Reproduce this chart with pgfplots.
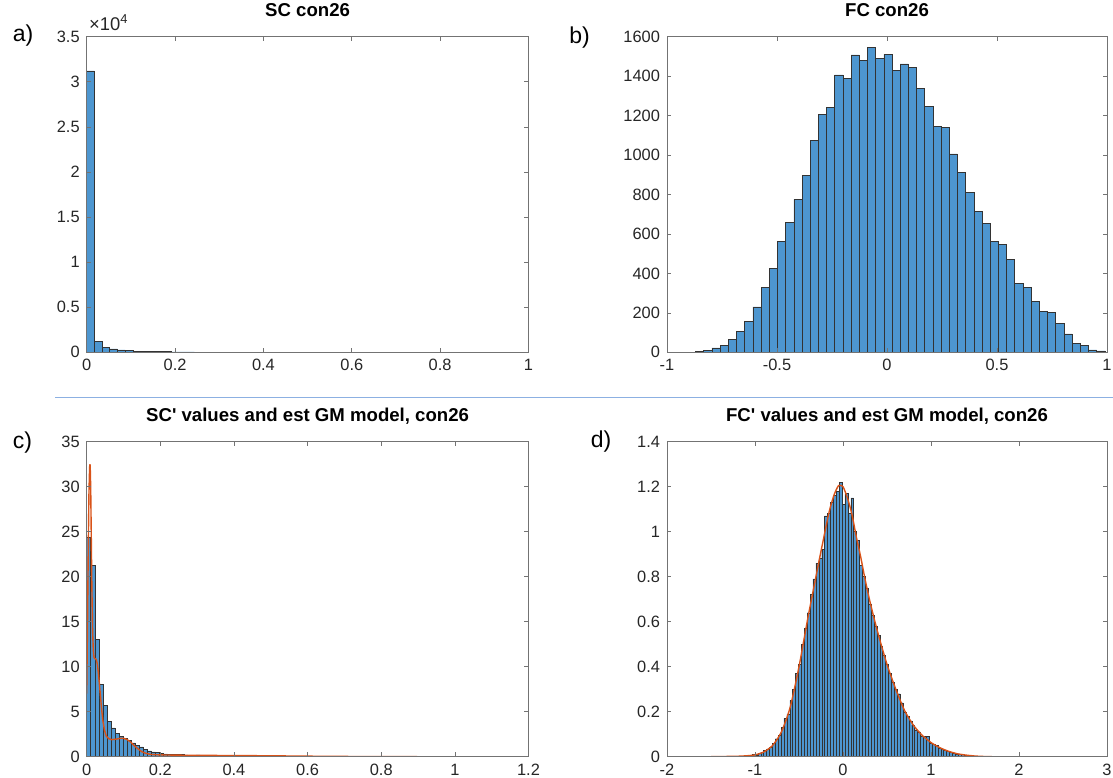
\documentclass[border=0pt]{standalone}
\usepackage{pgfplots}
\pgfplotsset{compat=1.18}
\usepackage{fontspec}
\setmainfont{Liberation Sans}

\definecolor{histblue}{RGB}{77,150,208}
\definecolor{gmred}{RGB}{217,83,25}
\definecolor{sepblue}{RGB}{140,176,226}

\pgfplotsset{
  mat/.style={
    scale only axis,
    anchor=south west,
    axis on top,
    enlargelimits=false,
    scaled ticks=false,
    axis line style={black!55, line width=0.4pt},
    tick align=inside,
    tick pos=both,
    xticklabel pos=lower,
    yticklabel pos=left,
    major tick length=2.2pt,
    tick style={black!55, line width=0.3pt},
    ticklabel style={font=\fontsize{8.2}{9}\selectfont, text=black!85},
    /pgf/number format/assume math mode=true,
    /pgf/number format/1000 sep={},
    title style={font=\bfseries\fontsize{9.3}{10}\selectfont, at={(0.5,1)}, anchor=base, yshift=4.2pt},
  },
  hist/.style={ybar interval, fill=histblue, draw=black!80, line width=0.3pt},
}

\begin{document}
\begin{tikzpicture}
\useasboundingbox (0,0) rectangle (556.5pt,388.5pt);

% a) SC histogram
\begin{axis}[mat, name=axa, at={(43.35pt,212.35pt)}, width=220.9pt, height=157.8pt,
  title={SC con26},
  xmin=0, xmax=1, ymin=0, ymax=35000,
  xtick={0,0.2,...,1},
  ytick={0,5000,...,35000},
  yticklabels={0,0.5,1,1.5,2,2.5,3,3.5}]
\addplot[hist] coordinates {
(0,31200) (0.0174,1175) (0.0348,555) (0.0522,366) (0.0696,255) (0.087,180)
(0.1044,135) (0.1218,105) (0.1392,85) (0.1566,70) (0.174,58) (0.1914,48)
(0.2088,40) (0.2262,34) (0.2436,30) (0.261,28) (0.2784,26) (0.2958,24)
(0.3132,22) (0.3306,21) (0.348,20) (0.3654,19) (0.3828,18) (0.4002,17)
(0.4176,16) (0.435,15) (0.4524,15) (0.4698,14) (0.4872,13) (0.5046,13)
(0.522,12) (0.5394,12) (0.5568,11) (0.5742,11) (0.5916,10) (0.609,10)
(0.6264,9) (0.6438,9) (0.6612,9) (0.6786,8) (0.696,8) (0.7134,8)
(0.7308,7) (0.7482,7) (0.7656,7) (0.783,6) (0.8004,6) (0.8178,6)
(0.8352,0) (0.8526,25) (0.87,25)};
\end{axis}
\node[anchor=base west, font=\fontsize{9.2}{10}\selectfont, text=black!85, inner sep=0pt]
  at ([xshift=1pt, yshift=3pt]axa.north west) {×10\textsuperscript{4}};

% b) FC histogram
\begin{axis}[mat, at={(333.5pt,212.35pt)}, width=220pt, height=157.8pt,
  title={FC con26},
  xmin=-1, xmax=1, ymin=0, ymax=1600,
  xtick={-1,-0.5,0,0.5,1},
  ytick={0,200,...,1600}]
\addplot[hist] coordinates {
(-0.870,3) (-0.8328,8) (-0.7956,22) (-0.7584,35) (-0.7212,64) (-0.684,105)
(-0.6468,157) (-0.6096,230) (-0.5724,327) (-0.5352,425) (-0.498,564) (-0.4608,657)
(-0.4236,775) (-0.3864,898) (-0.3492,1073) (-0.312,1205) (-0.2748,1240) (-0.2376,1406)
(-0.2004,1390) (-0.1632,1508) (-0.126,1478) (-0.0888,1545) (-0.0516,1489) (-0.0144,1510)
(0.0228,1428) (0.06,1462) (0.0972,1445) (0.1344,1339) (0.1716,1246) (0.2088,1145)
(0.246,1141) (0.2832,1006) (0.3204,913) (0.3576,812) (0.3948,716) (0.432,652)
(0.4692,564) (0.5064,545) (0.5436,471) (0.5808,351) (0.618,327) (0.6552,260)
(0.6924,209) (0.7296,204) (0.7668,145) (0.804,93) (0.8412,47) (0.8784,34)
(0.9156,12) (0.9528,7) (0.99,7)};
\end{axis}

% c) SC' values and GM model
\begin{axis}[mat, at={(43.35pt,10.15pt)}, width=220.9pt, height=157.5pt,
  title={SC\textquotesingle{} values and est GM model, con26},
  xmin=0, xmax=1.2, ymin=0, ymax=35,
  xtick={0,0.2,...,1.2},
  ytick={0,5,...,35}]
\addplot[hist, line width=0.25pt] coordinates {
(0,24.4) (0.011,21.3) (0.022,13.0) (0.033,8.0) (0.044,5.7) (0.055,3.9)
(0.066,3.2) (0.077,2.6) (0.088,2.3) (0.099,2.0) (0.11,1.8) (0.121,1.55)
(0.132,1.3) (0.143,1.1) (0.154,0.85) (0.165,0.65) (0.176,0.55) (0.187,0.45)
(0.198,0.38) (0.209,0.32) (0.22,0.3) (0.231,0.27) (0.242,0.24) (0.253,0.22)
(0.264,0.2) (0.275,0.18) (0.286,0.16) (0.297,0.2) (0.308,0.13) (0.319,0.12)
(0.33,0.12) (0.341,0.11) (0.352,0.11) (0.363,0.12) (0.374,0.1) (0.385,0.11)
(0.396,0.1) (0.407,0.1) (0.418,0.09) (0.429,0.1) (0.44,0.09) (0.451,0.09)
(0.462,0.08) (0.473,0.09) (0.484,0.08) (0.495,0.08) (0.506,0.07) (0.517,0.08)
(0.528,0.07) (0.539,0.07) (0.55,0.06) (0.561,0.06) (0.572,0.06) (0.583,0.05)
(0.594,0.05) (0.605,0.05) (0.616,0.04) (0.627,0.04) (0.638,0.03) (0.649,0.03)
(0.66,0.03)};
\addplot[gmred, line width=0.7pt] coordinates {
(0,7.0) (0.001,10.5) (0.002,14) (0.003,18) (0.004,22) (0.005,25.5) (0.006,29)
(0.007,30.8) (0.008,32.2) (0.009,32.5) (0.010,31.6) (0.011,29.5) (0.012,26)
(0.014,19) (0.016,14) (0.018,11.8) (0.020,11.0) (0.023,10.9) (0.026,10.8)
(0.029,10.3) (0.032,9.2) (0.036,7.4) (0.040,5.5) (0.044,4.0) (0.048,3.0)
(0.053,2.3) (0.060,2.0) (0.068,1.9) (0.080,1.95) (0.092,2.05) (0.100,2.05)
(0.110,1.9) (0.120,1.6) (0.130,1.2) (0.140,0.85) (0.150,0.55) (0.160,0.38)
(0.175,0.25) (0.20,0.2) (0.25,0.17) (0.30,0.15) (0.40,0.13) (0.50,0.1)
(0.60,0.06) (0.70,0.03) (0.80,0.01) (0.90,0) (1.2,0)};
\end{axis}

% d) FC' values and GM model
\begin{axis}[mat, at={(333.5pt,10.15pt)}, width=220pt, height=157.5pt,
  title={FC\textquotesingle{} values and est GM model, con26},
  xmin=-2, xmax=3, ymin=0, ymax=1.4,
  xtick={-2,...,3},
  ytick={0,0.2,...,1.4}]
\addplot[hist, line width=0.2pt] coordinates {
(-1.1,0.003) (-1.067,0.005) (-1.034,0.012) (-1.001,0.008) (-0.968,0.015) (-0.935,0.02)
(-0.902,0.028) (-0.869,0.035) (-0.836,0.042) (-0.803,0.06) (-0.77,0.08) (-0.737,0.095)
(-0.704,0.13) (-0.671,0.17) (-0.638,0.19) (-0.605,0.25) (-0.572,0.30) (-0.539,0.37)
(-0.506,0.41) (-0.473,0.50) (-0.44,0.57) (-0.407,0.64) (-0.374,0.72) (-0.341,0.79)
(-0.308,0.86) (-0.275,0.88) (-0.242,0.92) (-0.209,1.07) (-0.176,1.08) (-0.143,1.13)
(-0.11,1.16) (-0.077,1.18) (-0.044,1.22) (-0.011,1.12) (0.022,1.17) (0.055,1.08)
(0.088,1.15) (0.121,1.00) (0.154,0.96) (0.187,0.85) (0.22,0.80) (0.253,0.75)
(0.286,0.68) (0.319,0.63) (0.352,0.58) (0.385,0.54) (0.418,0.49) (0.451,0.45)
(0.484,0.41) (0.517,0.37) (0.55,0.33) (0.583,0.30) (0.616,0.28) (0.649,0.24)
(0.682,0.20) (0.715,0.18) (0.748,0.16) (0.781,0.14) (0.814,0.12) (0.847,0.11)
(0.88,0.09) (0.913,0.09) (0.946,0.09) (0.979,0.06) (1.012,0.055) (1.045,0.05)
(1.078,0.04) (1.111,0.035) (1.144,0.03) (1.177,0.025) (1.21,0.02) (1.243,0.017)
(1.276,0.013) (1.309,0.011) (1.342,0.009) (1.375,0.007) (1.408,0.006) (1.441,0.005)
(1.474,0.004) (1.507,0.003) (1.54,0.003) (1.573,0.002) (1.606,0.002) (1.639,0.001)
(1.672,0.002) (1.705,0.001) (1.738,0.001) (1.771,0.002) (1.804,0.001) (1.837,0)
(1.87,0.001) (1.903,0.002) (1.936,0.001) (1.969,0) (2.002,0.001) (2.035,0)
(2.068,0.002) (2.101,0.002)};
\addplot[gmred, line width=0.7pt, smooth, tension=0.4] coordinates {
(-1.5,0) (-1.2,0.002) (-1.1,0.004) (-1.0,0.008) (-0.9,0.021) (-0.8,0.05)
(-0.7,0.11) (-0.6,0.22) (-0.5,0.40) (-0.4,0.615) (-0.3,0.815) (-0.2,1.01)
(-0.15,1.10) (-0.1,1.165) (-0.05,1.205) (0.0,1.20) (0.05,1.15) (0.1,1.08)
(0.15,0.98) (0.2,0.89) (0.25,0.79) (0.3,0.70) (0.35,0.62) (0.4,0.545)
(0.5,0.41) (0.6,0.30) (0.7,0.205) (0.8,0.14) (0.9,0.095) (1.0,0.063)
(1.1,0.04) (1.2,0.024) (1.3,0.013) (1.4,0.007) (1.5,0.003) (1.6,0.001)
(1.7,0) (3.0,0)};
\end{axis}

% separator and panel letters
\draw[sepblue, line width=0.75pt] (27.5pt,189.85pt) -- (556.5pt,189.85pt);
\begin{scope}[every node/.style={font=\fontsize{11.5}{13}\selectfont, inner sep=0pt}]
\node at (11.5pt,370.5pt) {a)};
\node at (289.75pt,369.75pt) {b)};
\node at (11.25pt,167.25pt) {c)};
\node at (300.5pt,167.75pt) {d)};
\end{scope}
\end{tikzpicture}
\end{document}
